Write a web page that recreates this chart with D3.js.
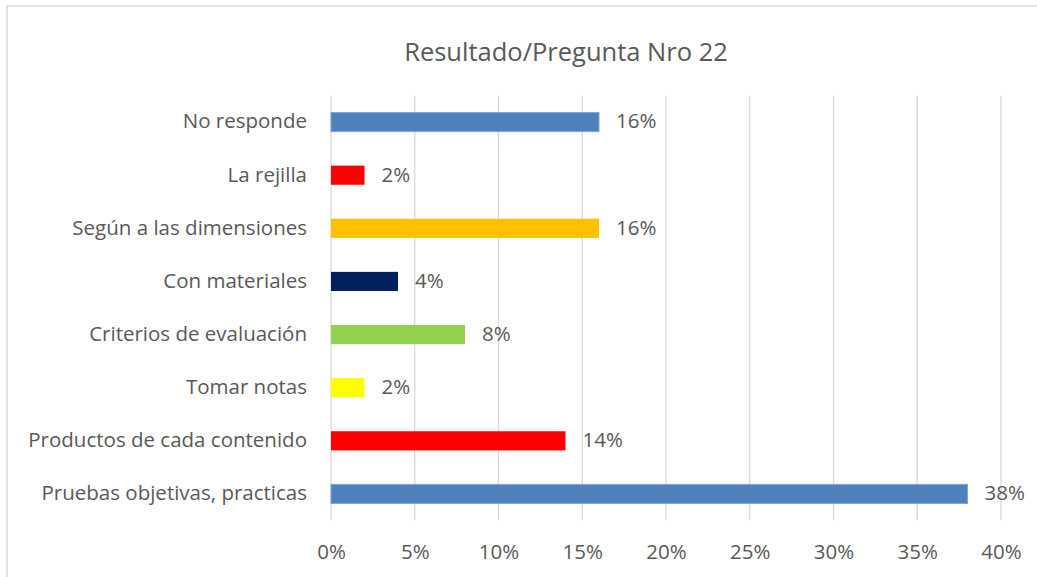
<!DOCTYPE html>
<html><head><meta charset="utf-8">
<script src="https://cdn.jsdelivr.net/npm/d3@7"></script>
<style>body{margin:0;background:#fff}text{font-family:"Open Sans",sans-serif;fill:#595959}</style>
</head><body><svg id="c" width="1037" height="577"></svg>
<script>
const title = "Resultado/Pregunta Nro 22";
const categories = ["No responde","La rejilla","Según a las dimensiones","Con materiales","Criterios de evaluación","Tomar notas","Productos de cada contenido","Pruebas objetivas, practicas"];
const values = [16,2,16,4,8,2,14,38];
const colors = ["#4f81bd","#ff0000","#ffc000","#002060","#92d050","#ffff00","#ff0000","#4f81bd"];
const tickValues = [0,5,10,15,20,25,30,35,40];

const svg = d3.select("#c");
svg.append("rect").attr("x",7).attr("y",6).attr("width",1100).attr("height",700)
  .attr("fill","none").attr("stroke","#d9d9d9").attr("stroke-width",1.5);

const m = {left:331, right:1001, top:95.5, bottom:520.5};
const x = d3.scaleLinear().domain([0,40]).range([m.left,m.right]);
const y = d3.scaleBand().domain(categories).range([m.top,m.bottom]).paddingInner(0.64).paddingOuter(0.32);

svg.append("text").attr("x",566).attr("y",51).attr("text-anchor","middle")
  .attr("dominant-baseline","central").style("font-size","25.5px").text(title);

const grid = svg.append("g");
grid.selectAll("line").data(tickValues).join("line")
  .attr("x1",d=>x(d)).attr("x2",d=>x(d)).attr("y1",m.top).attr("y2",m.bottom)
  .attr("stroke","#d9d9d9").attr("stroke-width",1.3);

const xAxis = svg.append("g").attr("transform",`translate(0,${m.bottom})`)
  .call(d3.axisBottom(x).tickValues(tickValues).tickFormat(d=>d+"%").tickSize(0));
xAxis.select(".domain").remove();
xAxis.selectAll("text").attr("y",30).attr("dy",null).attr("dominant-baseline","central")
  .style("font-size","20.5px").attr("fill","#595959").style("font-family","Open Sans");

const yAxis = svg.append("g").attr("transform",`translate(${m.left},0)`)
  .call(d3.axisLeft(y).tickSize(0).tickPadding(24));
yAxis.select(".domain").remove();
yAxis.selectAll("text").attr("dy","-0.08em").attr("dominant-baseline","central")
  .style("font-size","20.5px").attr("fill","#595959").style("font-family","Open Sans");

svg.append("g").selectAll("rect").data(values).join("rect")
  .attr("x",x(0)).attr("y",(d,i)=>y(categories[i]))
  .attr("width",d=>x(d)-x(0)).attr("height",y.bandwidth())
  .attr("fill",(d,i)=>colors[i])
  .attr("stroke",(d,i)=>colors[i]==="#4f81bd"?"#7fa6d6":"none").attr("stroke-width",1);

svg.append("g").selectAll("text").data(values).join("text")
  .attr("x",d=>x(d)+17).attr("y",(d,i)=>y(categories[i])+y.bandwidth()/2)
  .attr("dy","-0.08em")
  .attr("dominant-baseline","central").style("font-size","20.5px").text(d=>d+"%");
</script></body></html>
